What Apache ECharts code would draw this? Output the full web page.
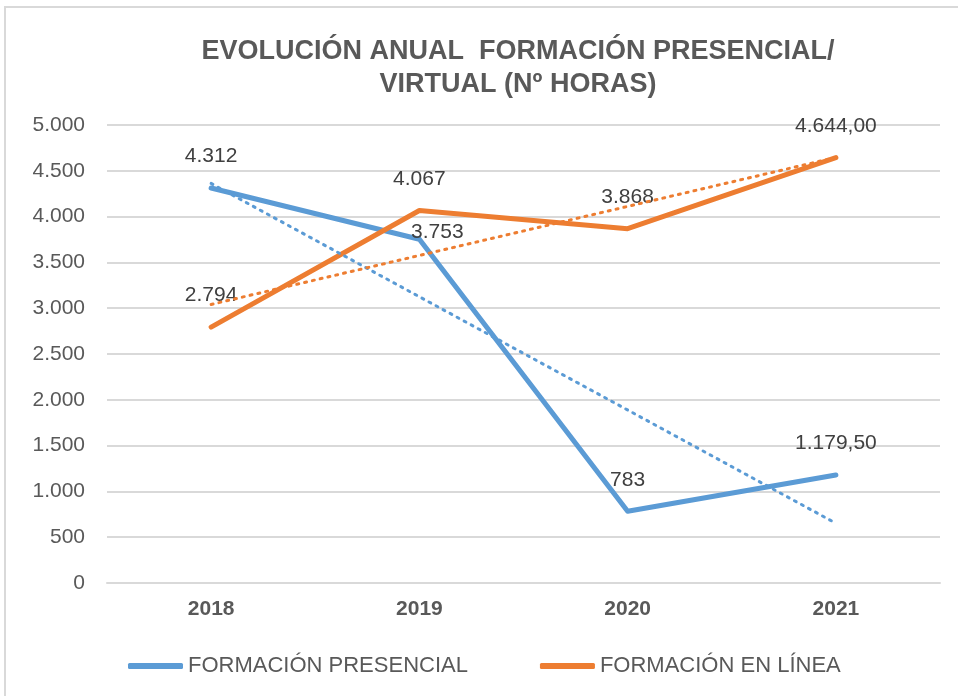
<!DOCTYPE html>
<html>
<head>
<meta charset="utf-8">
<script src="https://cdn.jsdelivr.net/npm/echarts@6/dist/echarts.min.js"></script>
<style>
  html, body { margin: 0; padding: 0; background: #ffffff; }
  #chart { width: 958px; height: 696px; }
</style>
</head>
<body>
<div id="chart"></div>
<script>
// ---- Data ----
const years = ['2018', '2019', '2020', '2021'];
const presencial = [4312, 3753, 783, 1179.5];
const enLinea = [2794, 4067, 3868, 4644];
const presencialLabels = ['4.312', '3.753', '783', '1.179,50'];
const enLineaLabels = ['2.794', '4.067', '3.868', '4.644,00'];
// Linear trend lines
const presencialTrend = [4362, 3125, 1889, 652];
const enLineaTrend = [3041, 3576, 4111, 4646];
const yTicks = ['0', '500', '1.000', '1.500', '2.000', '2.500', '3.000', '3.500', '4.000', '4.500', '5.000'];
const seriesNames = ['FORMACIÓN PRESENCIAL', 'FORMACIÓN EN LÍNEA'];

const BLUE = '#5B9BD5';
const ORANGE = '#ED7D31';
const FONT = '"Liberation Sans", Arial, sans-serif';

const chart = echarts.init(document.getElementById('chart'));

const presData = presencial.map((v, i) => {
  const d = { value: v };
  if (i === 1) d.label = { offset: [18, 24] };
  return d;
});

const option = {
  backgroundColor: '#ffffff',
  animation: false,
  title: {
    text: 'EVOLUCIÓN ANUAL  FORMACIÓN PRESENCIAL/\nVIRTUAL (Nº HORAS)',
    left: 513,
    textAlign: 'center',
    top: 30,
    padding: 5,
    textStyle: {
      fontFamily: FONT,
      fontSize: 27,
      fontWeight: 'bold',
      color: '#595959',
      lineHeight: 33
    }
  },
  graphic: [{
    type: 'rect',
    shape: { x: 5, y: 7, width: 1000, height: 800 },
    style: { fill: 'none', stroke: '#d9d9d9', lineWidth: 2 },
    silent: true,
    z: -10
  }],
  legend: {
    data: seriesNames,
    left: 123,
    top: 650,
    itemWidth: 55,
    itemHeight: 6,
    itemGap: 72,
    icon: 'roundRect',
    textStyle: { fontFamily: FONT, fontSize: 22, color: '#595959' }
  },
  grid: { left: 107, right: 18, top: 125, bottom: 113, containLabel: false },
  xAxis: {
    type: 'category',
    data: years,
    boundaryGap: true,
    axisLine: { show: true, lineStyle: { color: '#d9d9d9', width: 2 } },
    axisTick: { show: false },
    axisLabel: {
      fontFamily: FONT, fontSize: 21, fontWeight: 'bold', color: '#595959', margin: 16
    }
  },
  yAxis: {
    type: 'value',
    min: 0,
    max: 5000,
    interval: 500,
    axisLine: { show: false },
    axisTick: { show: false },
    splitLine: { lineStyle: { color: '#d9d9d9', width: 2 } },
    axisLabel: {
      fontFamily: FONT, fontSize: 21, color: '#595959', margin: 22,
      formatter: function (v) { return yTicks[Math.round(v / 500)]; }
    }
  },
  series: [
    {
      name: seriesNames[0],
      type: 'line',
      data: presData,
      symbol: 'circle',
      symbolSize: 0,
      showSymbol: true,
      lineStyle: { color: BLUE, width: 5, cap: 'round', join: 'round' },
      itemStyle: { color: BLUE },
      label: {
        show: true, position: 'top', distance: 21,
        fontFamily: FONT, fontSize: 21, color: '#404040',
        formatter: p => presencialLabels[p.dataIndex]
      },
      z: 3
    },
    {
      name: seriesNames[1],
      type: 'line',
      data: enLinea,
      symbol: 'circle',
      symbolSize: 0,
      showSymbol: true,
      lineStyle: { color: ORANGE, width: 5, cap: 'round', join: 'round' },
      itemStyle: { color: ORANGE },
      label: {
        show: true, position: 'top', distance: 21,
        fontFamily: FONT, fontSize: 21, color: '#404040',
        formatter: p => enLineaLabels[p.dataIndex]
      },
      z: 4
    },
    {
      name: 'trendPres',
      type: 'line',
      data: presencialTrend,
      symbol: 'none',
      lineStyle: { color: BLUE, width: 3, type: [2, 6], cap: 'round' },
      itemStyle: { color: BLUE },
      silent: true,
      z: 5
    },
    {
      name: 'trendLinea',
      type: 'line',
      data: enLineaTrend,
      symbol: 'none',
      lineStyle: { color: ORANGE, width: 3, type: [2, 6], cap: 'round' },
      itemStyle: { color: ORANGE },
      silent: true,
      z: 5
    }
  ]
};

chart.setOption(option);
</script>
</body>
</html>
